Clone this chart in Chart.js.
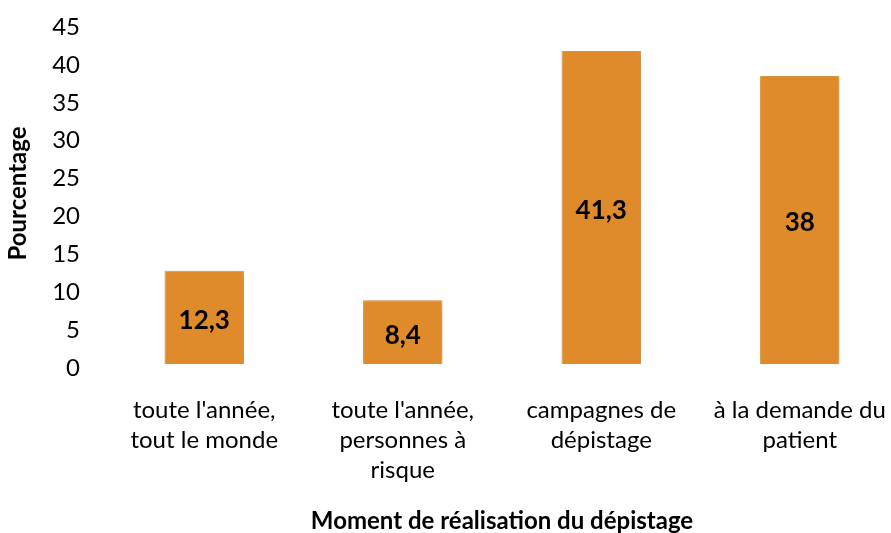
<!DOCTYPE html>
<html>
<head>
<meta charset="utf-8">
<script src="https://cdn.jsdelivr.net/npm/chart.js@4"></script>
<style>
  html, body { margin: 0; padding: 0; background: #fff; overflow: hidden; }
  #wrap { width: 900px; height: 533px; }
</style>
</head>
<body>
<div id="wrap"><canvas id="myChart"></canvas></div>
<script>
var categories = [
  ["toute l'année,", "tout le monde"],
  ["toute l'année,", "personnes à", "risque"],
  ["campagnes de", "dépistage"],
  ["à la demande du", "patient"],
];
var pourcentages = [12.3, 8.4, 41.3, 38];
var yTicks = [0, 5, 10, 15, 20, 25, 30, 35, 40, 45];

var FONT = "Lato, 'Open Sans', sans-serif";

// value written in the middle of each bar, with a decimal comma
var barValues = {
  id: "barValues",
  afterDatasetsDraw(chart) {
    var ctx = chart.ctx;
    var meta = chart.getDatasetMeta(0);
    ctx.save();
    ctx.font = "bold 26px " + FONT;
    ctx.fillStyle = "#000";
    ctx.textAlign = "center";
    ctx.textBaseline = "middle";
    meta.data.forEach(function (bar, i) {
      var txt = String(pourcentages[i]).replace(".", ",");
      ctx.fillText(txt, bar.x, (bar.y + bar.base) / 2 + 3);
    });
    ctx.restore();
  },
};

// soft shadow under the bars
var barShadow = {
  id: "barShadow",
  beforeDatasetsDraw(chart) {
    var ctx = chart.ctx;
    ctx.save();
    ctx.shadowColor = "rgba(0,0,0,0.25)";
    ctx.shadowBlur = 6;
    ctx.shadowOffsetX = 1;
    ctx.shadowOffsetY = 1;
  },
  afterDatasetsDraw(chart) {
    chart.ctx.restore();
  },
};

var ctx = document.getElementById("myChart").getContext("2d");
var myChart = new Chart(ctx, {
  type: "bar",
  data: {
    labels: categories,
    datasets: [
      {
        data: pourcentages,
        backgroundColor: "#E08B2B",
        borderColor: "#EC9E45",
        borderWidth: 1,
        barPercentage: 0.4,
        categoryPercentage: 1,
      },
    ],
  },
  plugins: [barShadow, barValues],
  options: {
    responsive: true,
    maintainAspectRatio: false,
    animation: false,
    layout: { padding: { top: 23, right: 1, left: 0, bottom: 0 } },
    plugins: {
      legend: { display: false },
      tooltip: { enabled: false },
    },
    scales: {
      x: {
        grid: { display: false, drawTicks: false },
        border: { display: false },
        ticks: {
          color: "#000",
          font: { family: FONT, size: 24, lineHeight: 1.25 },
          padding: 31,
          maxRotation: 0,
          autoSkip: false,
        },
        title: {
          display: true,
          text: "Moment de réalisation du dépistage",
          color: "#000",
          font: { family: FONT, size: 24, weight: "bold" },
          padding: { top: 0, bottom: -3 },
        },
        afterFit(scale) {
          scale.height = 169;
          scale.paddingLeft = 0;
          scale.paddingRight = 0;
          scale.paddingTop = 0;
        },
      },
      y: {
        min: 0,
        max: 45,
        afterBuildTicks(scale) {
          scale.ticks = yTicks.map(function (v) { return { value: v }; });
        },
        grid: { display: false, drawTicks: false },
        border: { display: false },
        ticks: {
          color: "#000",
          font: { family: FONT, size: 24 },
          padding: 25,
          labelOffset: 4,
        },
        title: {
          display: true,
          text: "Pourcentage",
          color: "#000",
          font: { family: FONT, size: 24, weight: "bold" },
          padding: { top: 4, bottom: 0 },
        },
        afterFit(scale) {
          scale.width = 105;
          scale.paddingTop = 0;
          scale.paddingBottom = 0;
        },
      },
    },
  },
});
</script>
</body>
</html>
